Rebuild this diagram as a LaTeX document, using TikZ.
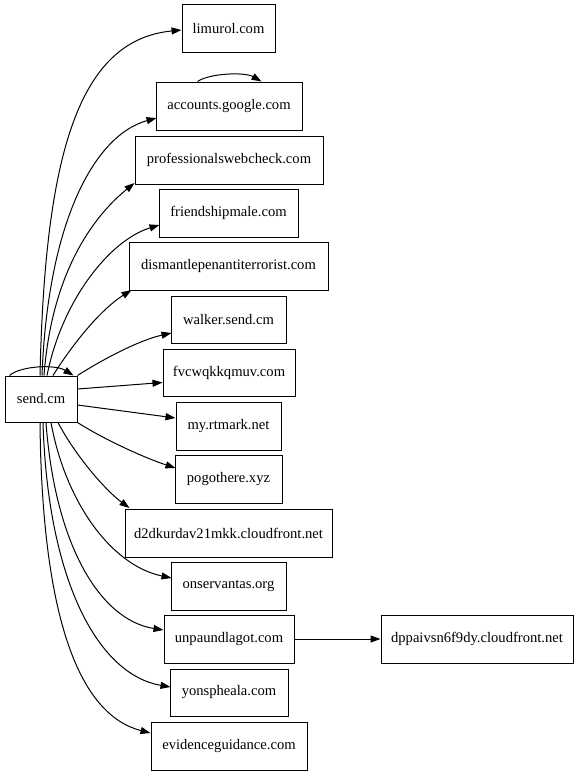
\documentclass[tikz,border=0pt]{standalone}
\usepackage{fontspec}
\setmainfont{Liberation Serif}
\usetikzlibrary{arrows.meta,calc}
\begin{document}
\begin{tikzpicture}[x=1pt,y=-1pt,
  box/.style={draw,line width=1pt,minimum height=48pt,inner sep=0pt,font=\fontsize{14.6}{16}\selectfont},
  arr/.style={line width=1pt,-{Triangle[length=10pt,width=7pt]}}]
\useasboundingbox[fill=white] (0,0) rectangle (579,776);
\node[box,minimum width=72pt,minimum height=46pt] (send) at (41,399) {send.cm};
\node[box,minimum width=93pt] (limurol) at (228.5,29) {limurol.com};
\node[box,minimum width=146pt] (accounts) at (229,106) {accounts.google.com};
\node[box,minimum width=188pt] (prof) at (229,160) {professionalswebcheck.com};
\node[box,minimum width=139pt] (friend) at (228.5,213) {friendshipmale.com};
\node[box,minimum width=199pt] (dism) at (228.5,266) {dismantlepenantiterrorist.com};
\node[box,minimum width=115pt,minimum height=47pt] (walker) at (228.5,319.5) {walker.send.cm};
\node[box,minimum width=132pt,minimum height=47pt] (fvc) at (229,372.5) {fvcwqkkqmuv.com};
\node[box,minimum width=105pt] (rtmark) at (228.5,426) {my.rtmark.net};
\node[box,minimum width=107pt] (pogo) at (228.5,479) {pogothere.xyz};
\node[box,minimum width=207pt] (d2d) at (228.5,533) {d2dkurdav21mkk.cloudfront.net};
\node[box,minimum width=115pt] (onser) at (228.5,586) {onservantas.org};
\node[box,minimum width=130pt] (unpa) at (229,639) {unpaundlagot.com};
\node[box,minimum width=192pt] (dppa) at (477,639) {dppaivsn6f9dy.cloudfront.net};
\node[box,minimum width=118pt,minimum height=47pt] (yons) at (229,692.5) {yonspheala.com};
\node[box,minimum width=156pt] (evid) at (229,746) {evidenceguidance.com};
% edges
\draw[arr] ($(send.north)+(-1,0)$) .. controls (45,150) and (80,40) .. ($(limurol.west)+(0,1)$);
\draw[arr] ($(send.north)+(1,0)$) .. controls (48,220) and (95,135) .. ($(accounts.west)+(1,12)$);
\draw[arr] ($(send.north)+(3,0)$) .. controls (52,270) and (95,215) .. ($(prof.west)+(0,23)$);
\draw[arr] ($(send.north)+(6,0)$) .. controls (62,300) and (110,240) .. ($(friend.west)+(1,12)$);
\draw[arr] ($(send.north)+(12,0)$) .. controls (72,345) and (100,310) .. ($(dism.west)+(3,24)$);
\draw[arr] (send.north east) .. controls (105,358) and (140,340) .. ($(walker.west)+(1,13.5)$);
\draw[arr] ($(send.east)+(0,-10)$) -- ($(fvc.west)+(0,10)$);
\draw[arr] ($(send.east)+(0,6)$) -- ($(rtmark.west)+(0,-8)$);
\draw[arr] (send.south east) .. controls (105,440) and (145,458) .. ($(pogo.west)+(1,-11)$);
\draw[arr] ($(send.south)+(17,0)$) .. controls (75,455) and (105,490) .. ($(d2d.west)+(5,-25)$);
\draw[arr] ($(send.south)+(10,0)$) .. controls (65,500) and (110,565) .. ($(onser.west)+(1,-8)$);
\draw[arr] ($(send.south)+(5,0)$) .. controls (55,545) and (100,620) .. ($(unpa.west)+(0,-9)$);
\draw[arr] ($(send.south)+(2,0)$) .. controls (48,585) and (100,675) .. ($(yons.west)+(1,-5.5)$);
\draw[arr] ($(send.south)+(-1,0)$) .. controls (42,620) and (80,715) .. ($(evid.west)+(0,-13)$);
\draw[arr] (unpa.east) -- (dppa.west);
% self loops
\draw[arr] ($(send.north west)+(5,0)$) .. controls (20,366) and (55,364) .. ($(send.north east)+(-4,0)$);
\draw[arr] ($(accounts.north west)+(42,0)$) .. controls (210,73) and (245,72) .. ($(accounts.north west)+(106,0)$);
\end{tikzpicture}
\end{document}
